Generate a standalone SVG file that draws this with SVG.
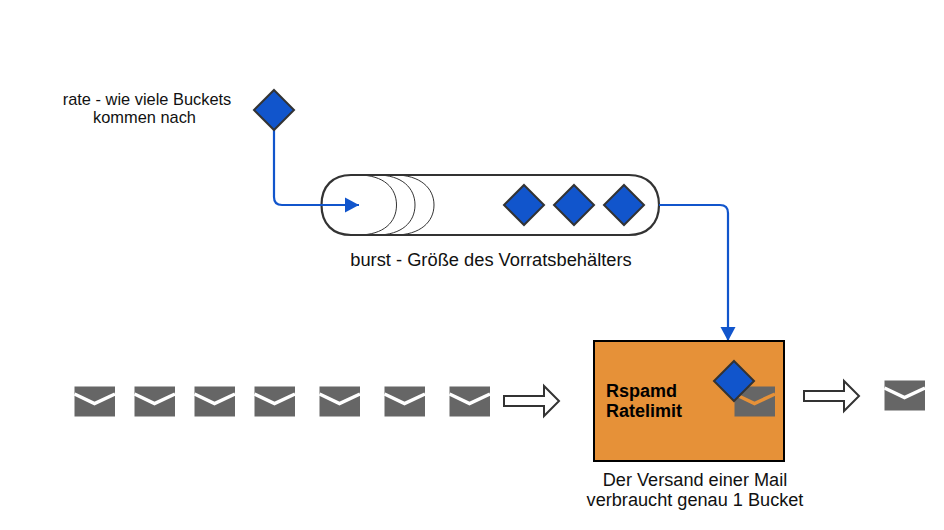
<svg xmlns="http://www.w3.org/2000/svg" width="944" height="530" viewBox="0 0 944 530">
<style>
text{font-family:"Liberation Sans",Arial,sans-serif;font-size:16.400px;fill:#111;text-anchor:middle}
.big{font-size:18.300px}
.send{font-size:18.150px}
.bold{font-size:18px;font-weight:bold;text-anchor:start;fill:#000}
.d{fill:#1155cc;stroke:#333;stroke-width:2;stroke-linejoin:miter}
.c{fill:none;stroke:#1155cc;stroke-width:2.200}
.a{fill:#fff;stroke:#333;stroke-width:2}
.e{fill:#666}
.v{fill:none;stroke:#fff;stroke-width:3.500}
.in{fill:none;stroke:#333;stroke-width:1}
</style>
<defs>
<marker id="tip" markerUnits="userSpaceOnUse" markerWidth="15" markerHeight="16" refX="14" refY="8" orient="auto"><path d="M0 0.500L14 8L0 15.500Z" fill="#1155cc"/></marker>
<g id="mail"><rect class="e" x="0.500" y="0.500" width="40.500" height="30"/><path class="v" d="M0.500 8L20.500 17.500L41 8"/></g>
<path id="dia" class="d" d="M0-20L20 0L0 20L-20 0Z"/>
</defs>
<g id="bucket">
<path d="M351 175H629C647 175 659 186 659 205C659 224 647 235 629 235H351C333 235 321.500 224 321.500 205C321.500 186 333 175 351 175Z" fill="#fff" stroke="#333" stroke-width="2.200"/>
<path class="in" d="M395 175C420 175 434 188 434 205C434 222 420 235 395 235"/>
<path class="in" d="M377 175C402 175 415 188 415 205C415 222 402 235 377 235"/>
<path class="in" d="M358 175C384 175 396.500 188 396.500 205C396.500 222 384 235 358 235"/>
</g>
<g id="connectors">
<path class="c" d="M274 130V197Q274 205 282 205H359" marker-end="url(#tip)"/>
<path class="c" d="M659 205H720Q728 205 728 213V341" marker-end="url(#tip)"/>
</g>
<g id="rate-token"><use href="#dia" x="274" y="110"/></g>
<g id="token-1"><use href="#dia" x="524" y="205"/></g>
<g id="token-2"><use href="#dia" x="574" y="205"/></g>
<g id="token-3"><use href="#dia" x="624" y="205"/></g>
<g id="rate-label"><text x="147" y="105">rate - wie viele Buckets</text><text x="144.500" y="123">kommen nach</text></g>
<g id="burst-label"><text class="big" x="491" y="266">burst - Größe des Vorratsbehälters</text></g>
<g id="mail-1"><use href="#mail" x="74" y="386"/></g>
<g id="mail-2"><use href="#mail" x="134" y="386"/></g>
<g id="mail-3"><use href="#mail" x="194" y="386"/></g>
<g id="mail-4"><use href="#mail" x="254" y="386"/></g>
<g id="mail-5"><use href="#mail" x="319" y="386"/></g>
<g id="mail-6"><use href="#mail" x="384" y="386"/></g>
<g id="mail-7"><use href="#mail" x="449" y="386"/></g>
<g id="arrow-in"><path class="a" d="M504 396H544V386L559 401L544 416V406H504Z"/></g>
<g id="ratelimit">
<rect x="594" y="341" width="190" height="120" fill="#e69138" stroke="#000" stroke-width="2"/>
<text class="bold" x="606" y="397">Rspamd</text>
<text class="bold" x="606" y="417">Ratelimit</text>
<rect class="e" x="734.500" y="386.500" width="40.500" height="30"/>
<path fill="none" stroke="#e69138" stroke-width="3.500" d="M734.500 394L754.500 403.500L775 394"/>
<use href="#dia" x="734" y="381"/>
</g>
<g id="arrow-out"><path class="a" d="M804 391H844V381L859 396L844 411V401H804Z"/></g>
<g id="mail-out"><use href="#mail" x="884" y="380"/></g>
<g id="send-label"><text class="send" x="695" y="486">Der Versand einer Mail</text><text class="send" x="695" y="506">verbraucht genau 1 Bucket</text></g>
</svg>
